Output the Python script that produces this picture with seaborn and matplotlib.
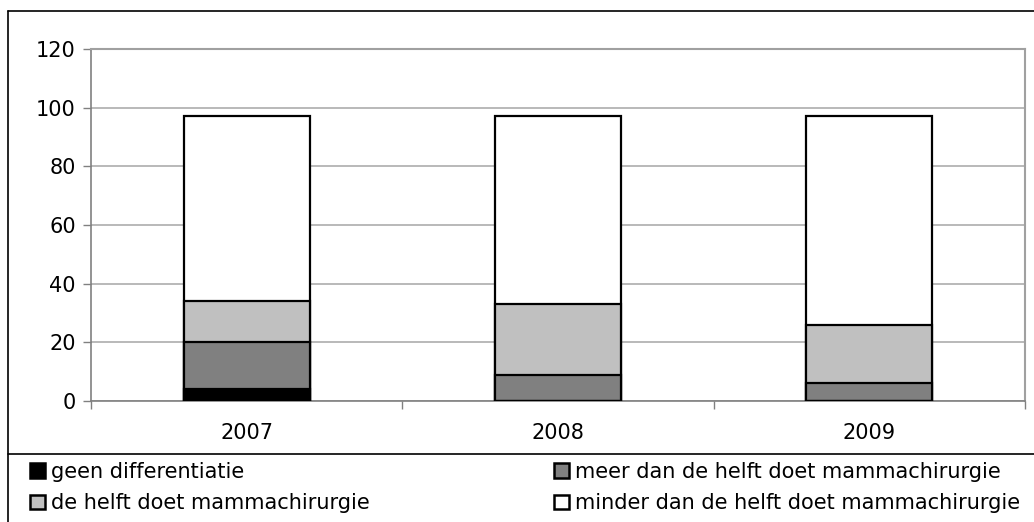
import matplotlib
matplotlib.use("Agg")
import matplotlib.pyplot as plt
import seaborn as sns
import pandas as pd
import numpy as np
from matplotlib.patches import Patch
from matplotlib.lines import Line2D

sns.set_style("white")
plt.rcParams['font.family'] = ['DejaVu Sans']
plt.rcParams['text.color'] = 'black'
plt.rcParams['xtick.color'] = 'black'
plt.rcParams['ytick.color'] = 'black'

years = ["2007", "2008", "2009"]
geen = [4, 0, 0]
meer = [16, 9, 6]
helft = [14, 24, 20]
minder = [63, 64, 71]

series_names = ["geen differentiatie", "meer dan de helft doet mammachirurgie",
                "de helft doet mammachirurgie", "minder dan de helft doet mammachirurgie"]
colors = ["#000000", "#808080", "#c0c0c0", "#ffffff"]

W, H = 1034, 522
fig = plt.figure(figsize=(W / 100, H / 100), dpi=100)
ax = fig.add_axes([91 / W, 1 - 401 / H, (1025 - 91) / W, (401 - 49) / H])

series = [geen, meer, helft, minder]
cum = np.cumsum(np.array(series), axis=0)
# draw cumulative bars from top down so they stack visually
for i in range(len(series) - 1, -1, -1):
    df = pd.DataFrame({"year": years, "value": cum[i]})
    sns.barplot(data=df, x="year", y="value", color=colors[i], width=0.405,
                edgecolor="black", linewidth=1.6, saturation=1, ax=ax, zorder=3)

ax.set_ylim(0, 120)
ax.set_xlim(-0.5, 2.5)
ax.set_yticks(range(0, 121, 20))
ax.set_xlabel("")
ax.set_ylabel("")
ax.yaxis.grid(True, color="#a6a6a6", linewidth=1.1, zorder=0)
ax.set_axisbelow(True)
for s in ["top", "right"]:
    ax.spines[s].set_color("#a0a0a0")
    ax.spines[s].set_linewidth(1.5)
ax.spines["left"].set_color("#808080")
ax.spines["bottom"].set_color("#808080")
ax.spines["left"].set_linewidth(1.2)
ax.spines["bottom"].set_linewidth(1.2)

ax.tick_params(axis="y", left=True, length=6, width=1, color="#808080",
               labelsize=15, pad=5, labelcolor="black")
ax.tick_params(axis="x", bottom=False, labelsize=15, pad=12, labelcolor="black")
# category boundary ticks
ax.set_xticks([-0.5, 0.5, 1.5, 2.5], minor=True)
ax.tick_params(axis="x", which="minor", bottom=True, length=6, width=1, color="#808080")

# outer frame
fig.add_artist(Line2D([8 / W, 8 / W], [1 - 11 / H, 0], color="black", lw=1.2))
fig.add_artist(Line2D([8 / W, 1], [1 - 11 / H, 1 - 11 / H], color="black", lw=1.2))
fig.add_artist(Line2D([8 / W, 1], [1 - 454 / H, 1 - 454 / H], color="black", lw=1.2))

handles = [Patch(facecolor=c, edgecolor="black", linewidth=1.8) for c in colors]
leg_kw = dict(frameon=False, fontsize=15, handlelength=0.7, handleheight=0.7,
              handletextpad=0.3, labelspacing=0.55, borderaxespad=0, borderpad=0,
              labelcolor="black")
l1 = fig.legend([handles[0], handles[2]], [series_names[0], series_names[2]],
                loc="upper left", bbox_to_anchor=(30 / W, 1 - 462 / H), **leg_kw)
l2 = fig.legend([handles[1], handles[3]], [series_names[1], series_names[3]],
                loc="upper left", bbox_to_anchor=(554 / W, 1 - 462 / H), **leg_kw)

fig.savefig("out.png", dpi=100)
